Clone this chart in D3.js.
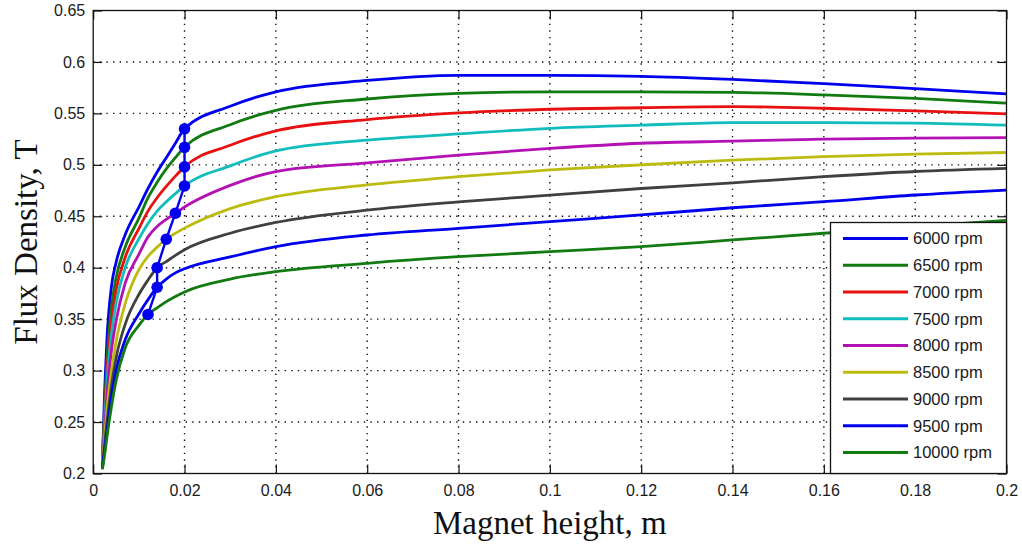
<!DOCTYPE html>
<html>
<head>
<meta charset="utf-8">
<script src="https://cdn.jsdelivr.net/npm/d3@7"></script>
<style>
  body { margin: 0; background: #fff; }
  .tick text { font-family: "Liberation Sans", Arial, sans-serif; font-size: 16px; fill: #1a1a1a; }
</style>
</head>
<body>
<div id="chart"></div>
<script>
// magnet height (m) sample points, shared by all curves
var magnetHeight = [0.002, 0.0025, 0.003, 0.004, 0.005, 0.007, 0.01, 0.012, 0.014, 0.016, 0.018,
                    0.02, 0.03, 0.04, 0.06, 0.08, 0.1, 0.12, 0.14, 0.16, 0.18, 0.2];

var flux6000  = [0.210, 0.280, 0.330, 0.382, 0.405, 0.432, 0.459, 0.477, 0.493, 0.507, 0.521,
                 0.535, 0.557, 0.571, 0.582, 0.587, 0.587, 0.586, 0.583, 0.579, 0.574, 0.569];
var flux6500  = [0.210, 0.265, 0.310, 0.362, 0.390, 0.420, 0.448, 0.468, 0.483, 0.496, 0.507,
                 0.517, 0.539, 0.553, 0.564, 0.5695, 0.571, 0.571, 0.5705, 0.568, 0.5645, 0.560];
var flux7000  = [0.210, 0.255, 0.298, 0.348, 0.378, 0.410, 0.438, 0.455, 0.468, 0.479, 0.489,
                 0.498, 0.519, 0.533, 0.544, 0.5505, 0.554, 0.5555, 0.5565, 0.555, 0.5525, 0.5495];
var flux7500  = [0.209, 0.250, 0.288, 0.335, 0.365, 0.400, 0.428, 0.443, 0.455, 0.464, 0.472,
                 0.4795, 0.499, 0.5135, 0.524, 0.530, 0.5355, 0.5385, 0.541, 0.541, 0.5405, 0.5385];
var flux8000  = [0.208, 0.242, 0.275, 0.320, 0.348, 0.385, 0.413, 0.430, 0.440, 0.447, 0.453,
                 0.459, 0.480, 0.4935, 0.502, 0.5095, 0.516, 0.521, 0.523, 0.525, 0.526, 0.5265];
var flux8500  = [0.207, 0.235, 0.262, 0.300, 0.328, 0.365, 0.398, 0.411, 0.420, 0.4277, 0.4335,
                 0.4385, 0.4575, 0.469, 0.4805, 0.4885, 0.495, 0.500, 0.5045, 0.508, 0.5105, 0.512];
var flux9000  = [0.206, 0.228, 0.250, 0.285, 0.312, 0.345, 0.374, 0.388, 0.400, 0.406, 0.412,
                 0.4175, 0.4335, 0.444, 0.456, 0.464, 0.4705, 0.477, 0.4825, 0.4885, 0.4935, 0.4965];
var flux9500  = [0.205, 0.222, 0.240, 0.275, 0.300, 0.330, 0.355, 0.369, 0.381, 0.389, 0.395,
                 0.399, 0.4105, 0.4205, 0.4318, 0.4383, 0.4448, 0.4513, 0.4583, 0.4642, 0.4707, 0.4755];
var flux10000 = [0.204, 0.218, 0.235, 0.265, 0.290, 0.322, 0.344, 0.3546, 0.361, 0.367, 0.372,
                 0.3765, 0.389, 0.3962, 0.4043, 0.4107, 0.4156, 0.4205, 0.427, 0.4335, 0.440, 0.446];

var speeds = ['6000 rpm', '6500 rpm', '7000 rpm', '7500 rpm', '8000 rpm',
              '8500 rpm', '9000 rpm', '9500 rpm', '10000 rpm'];
var colors = ['#0000ee', '#117a11', '#e81010', '#10bcbc', '#b411b4',
              '#bcbc10', '#404040', '#0000ee', '#117a11'];

// optimum points (marked with filled circles)
var optHeight = [0.02, 0.02, 0.02, 0.02, 0.018, 0.016, 0.014, 0.014, 0.012];
var optFlux   = [0.535, 0.517, 0.498, 0.4795, 0.453, 0.4277, 0.400, 0.381, 0.3546];

var xTicks = [0, 0.02, 0.04, 0.06, 0.08, 0.1, 0.12, 0.14, 0.16, 0.18, 0.2];
var yTicks = [0.2, 0.25, 0.3, 0.35, 0.4, 0.45, 0.5, 0.55, 0.6, 0.65];

var series = [flux6000, flux6500, flux7000, flux7500, flux8000, flux8500, flux9000, flux9500, flux10000];

var width = 1022,
    height = 546,
    pLeft = 93.2, pRight = 1006.5, pTop = 10.5, pBottom = 473.5;

var x = d3.scaleLinear().domain([0, 0.2]).range([pLeft, pRight]);
var y = d3.scaleLinear().domain([0.2, 0.65]).range([pBottom, pTop]);

var svg = d3.select('#chart').append('svg')
    .attr('width', width)
    .attr('height', height)
    .style('background', '#fff');

// dotted grid
svg.append('g').selectAll('line')
  .data(xTicks.slice(1, -1))
  .enter().append('line')
    .attr('x1', function(d) { return x(d); })
    .attr('x2', function(d) { return x(d); })
    .attr('y1', pTop)
    .attr('y2', pBottom)
    .attr('stroke', '#111')
    .attr('stroke-width', 1.4)
    .attr('stroke-dasharray', '1.4,5.2');

svg.append('g').selectAll('line')
  .data(yTicks.slice(1, -1))
  .enter().append('line')
    .attr('x1', pLeft)
    .attr('x2', pRight)
    .attr('y1', function(d) { return y(d); })
    .attr('y2', function(d) { return y(d); })
    .attr('stroke', '#111')
    .attr('stroke-width', 1.4)
    .attr('stroke-dasharray', '1.4,5.2');

// axes with inward ticks
var fmt = d3.format('~g');

var gx = svg.append('g')
    .attr('transform', 'translate(0,' + pBottom + ')')
    .call(d3.axisBottom(x).tickValues(xTicks).tickSize(-9).tickSizeOuter(0).tickPadding(11).tickFormat(fmt));
var gy = svg.append('g')
    .attr('transform', 'translate(' + pLeft + ',0)')
    .call(d3.axisLeft(y).tickValues(yTicks).tickSize(-9).tickSizeOuter(0).tickPadding(8).tickFormat(fmt));
var gt = svg.append('g')
    .attr('transform', 'translate(0,' + pTop + ')')
    .call(d3.axisTop(x).tickValues(xTicks).tickSize(-9).tickSizeOuter(0).tickFormat(''));
var gr = svg.append('g')
    .attr('transform', 'translate(' + pRight + ',0)')
    .call(d3.axisRight(y).tickValues(yTicks).tickSize(-9).tickSizeOuter(0).tickFormat(''));

[gx, gy, gt, gr].forEach(function(g) {
  g.select('.domain').remove();
  g.selectAll('.tick line').attr('stroke', '#111').attr('stroke-width', 1.2);
});

// curves
var line = d3.line()
    .x(function(d, i) { return x(magnetHeight[i]); })
    .y(function(d) { return y(d); })
    .curve(d3.curveMonotoneX);

svg.append('g').selectAll('path')
  .data(series)
  .enter().append('path')
    .attr('d', line)
    .attr('fill', 'none')
    .attr('stroke', function(d, i) { return colors[i]; })
    .attr('stroke-width', 2.8);

// optimum line + markers
var optLine = d3.line()
    .x(function(d, i) { return x(optHeight[i]); })
    .y(function(d) { return y(d); });

svg.append('path')
    .attr('d', optLine(optFlux))
    .attr('fill', 'none')
    .attr('stroke', '#0000ee')
    .attr('stroke-width', 2.4);

svg.append('g').selectAll('circle')
  .data(optFlux)
  .enter().append('circle')
    .attr('cx', function(d, i) { return x(optHeight[i]); })
    .attr('cy', function(d) { return y(d); })
    .attr('r', 5.8)
    .attr('fill', '#0000ee');

// frame
svg.append('rect')
    .attr('x', pLeft)
    .attr('y', pTop)
    .attr('width', pRight - pLeft)
    .attr('height', pBottom - pTop)
    .attr('fill', 'none')
    .attr('stroke', '#111')
    .attr('stroke-width', 1.3);

// legend
var legend = svg.append('g');
legend.append('rect')
    .attr('x', 830.5)
    .attr('y', 222.5)
    .attr('width', pRight - 830.5)
    .attr('height', pBottom - 222.5)
    .attr('fill', '#fff')
    .attr('stroke', '#111')
    .attr('stroke-width', 1.3);

var rows = legend.selectAll('g.row')
  .data(speeds)
  .enter().append('g')
    .attr('class', 'row')
    .attr('transform', function(d, i) { return 'translate(0,' + (238.5 + i * 26.75) + ')'; });

rows.append('line')
    .attr('x1', 843)
    .attr('x2', 908)
    .attr('stroke', function(d, i) { return colors[i]; })
    .attr('stroke-width', 2.8);

rows.append('text')
    .attr('x', 913)
    .attr('dy', '0.36em')
    .style('font-family', '"Liberation Sans", Arial, sans-serif')
    .style('font-size', '16.5px')
    .style('fill', '#1a1a1a')
    .text(function(d) { return d; });

// axis titles
svg.append('text')
    .attr('x', (pLeft + pRight) / 2)
    .attr('y', 534)
    .attr('text-anchor', 'middle')
    .style('font-family', '"Liberation Serif", "Times New Roman", serif')
    .style('font-size', '33px')
    .style('fill', '#111')
    .text('Magnet height, m');

svg.append('text')
    .attr('transform', 'translate(37,' + ((pTop + pBottom) / 2) + ') rotate(-90)')
    .attr('text-anchor', 'middle')
    .style('font-family', '"Liberation Serif", "Times New Roman", serif')
    .style('font-size', '33px')
    .style('fill', '#111')
    .text('Flux Density, T');
</script>
</body>
</html>
